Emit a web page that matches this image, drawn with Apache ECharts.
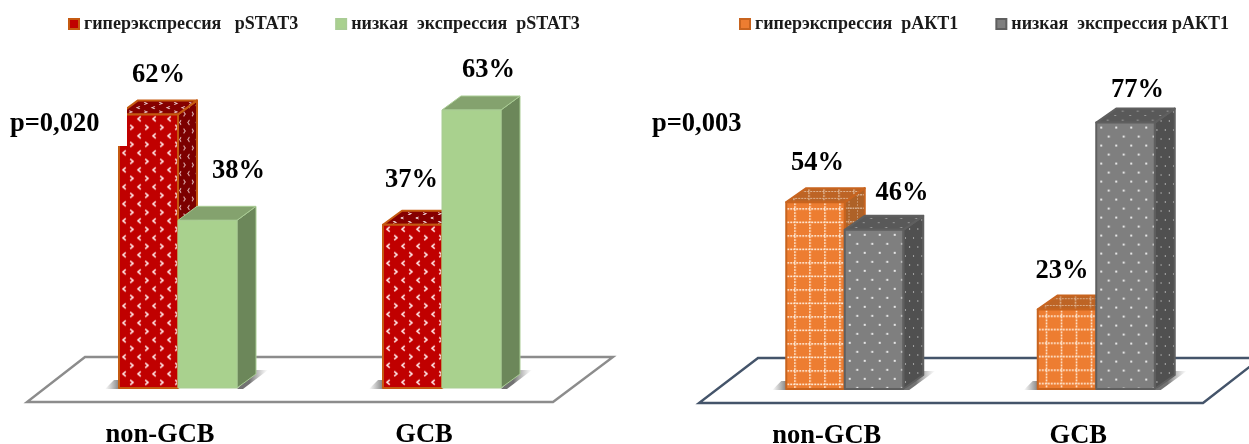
<!DOCTYPE html>
<html>
<head>
<meta charset="utf-8">
<style>html,body{margin:0;padding:0;background:#fff}#chart{width:1249px;height:444px}</style>
<script src="https://cdn.jsdelivr.net/npm/echarts@6/dist/echarts.min.js"></script>
</head>
<body>
<div id="chart"></div>
<script>
// Expression groups, in percent of patients per lymphoma subtype
const categories = ['non-GCB', 'GCB'];
const pstat3High = [62, 37];
const pstat3Low = [38, 63];
const pakt1High = [54, 23];
const pakt1Low = [46, 77];

const legendStat = ['гиперэкспрессия   pSTAT3', 'низкая  экспрессия  pSTAT3'];
const legendAkt = ['гиперэкспрессия  pАКТ1', 'низкая  экспрессия pАКТ1'];

const SERIF = '"Liberation Serif","Times New Roman",serif';
const LABEL_FONT = 'bold 26.5px ' + SERIF;

// Tile makers for the surface textures of the columns
function tile(w, h, bg, draw) {
  const c = document.createElement('canvas');
  c.width = w; c.height = h;
  const g = c.getContext('2d');
  g.fillStyle = bg; g.fillRect(0, 0, w, h);
  draw(g);
  return c;
}
function chevrons(bg, ink) {
  return tile(15, 17, bg, g => {
    g.strokeStyle = ink; g.lineWidth = 1.6;
    g.beginPath(); g.moveTo(5.8, 1.2); g.lineTo(3, 3.5); g.lineTo(5.8, 5.8); g.stroke();
    g.beginPath(); g.moveTo(10.2, 9.7); g.lineTo(13, 12); g.lineTo(10.2, 14.3); g.stroke();
  });
}
function plaid(bg, ink) {
  return tile(15, 27, bg, g => {
    g.fillStyle = ink;
    for (let y = 0; y < 27; y += 3) g.fillRect(7, y, 1.4, 2);
    for (let x = 0; x < 15; x += 3) {
      g.fillRect(x, 5, 2, 1.5);
      g.fillRect(x, 18.5, 2, 1.5);
    }
  });
}
function dots(bg, ink) {
  return tile(15, 18, bg, g => {
    g.fillStyle = ink;
    g.beginPath(); g.arc(4, 4, 1.1, 0, 7); g.fill();
    g.beginPath(); g.arc(11.5, 13, 1.1, 0, 7); g.fill();
  });
}

const looks = {
  red: {
    legend: '#c00000', edge: '#c55a11', edgeW: 2,
    front: chevrons('#c00000', '#ffe6e6'), top: chevrons('#860000', '#e8c8c8'), side: chevrons('#7c0000', '#d8a8a8')
  },
  green: {
    legend: '#a9d18e', edge: '#a9cc94', edgeW: 1,
    front: '#a9d18e', top: '#84a26e', side: '#6c875a'
  },
  orange: {
    legend: '#ed7d31', edge: '#c8641f', edgeW: 2,
    front: plaid('#ed7d31', '#ffeedd'), top: plaid('#bd6425', '#e0b898'), side: plaid('#ae6228', '#d8b090')
  },
  grey: {
    legend: '#7f7f7f', edge: '#5f5f5f', edgeW: 2,
    front: dots('#7f7f7f', '#ffffff'), top: dots('#595959', '#a8a8a8'), side: dots('#505050', '#b0b0b0')
  }
};

const fillOf = (paint, x, y, sx, sy) => typeof paint === 'string' ? paint
  : { image: paint, repeat: 'repeat', x: x, y: y, scaleX: sx, scaleY: sy };

// One cuboid column: front, top and side faces plus its cast shadow and value text
function columnSeries(name, values, look, side, grid, barW, depth, labelShift) {
  return {
    name: name, type: 'custom', xAxisIndex: grid, yAxisIndex: grid, z: 3, clip: false,
    itemStyle: { color: look.legend, borderColor: look.edge, borderWidth: 2 },
    data: values.map((v, i) => [i, v]),
    encode: { x: 0, y: 1 },
    renderItem(params, api) {
      const idx = api.value(0), val = api.value(1);
      const top = api.coord([idx, val]);
      const base = api.coord([idx, 0]);
      const xL = side < 0 ? top[0] - barW : top[0];
      const xR = xL + barW, yT = top[1], yB = base[1];
      const dx = depth[0], dy = depth[1];
      const kids = [];
      if (side < 0) {
        kids.push({ type: 'polygon', shape: { points: [[xL - 14, yB + 1], [xL + 2, yB + 1], [xL + 8, yB - 8], [xL - 5, yB - 8]] },
          style: { fill: new echarts.graphic.LinearGradient(0, 0, 1, 0, [{ offset: 0, color: 'rgba(120,120,120,0)' }, { offset: 0.6, color: 'rgba(110,110,110,.8)' }, { offset: 1, color: 'rgba(110,110,110,.8)' }]) } });
      } else {
        kids.push({ type: 'polygon', shape: { points: [[xR, yB + 1], [xR + 6, yB + 1], [xR + dx + 12, yB + dy - 4], [xR + dx, yB + dy - 4]] },
          style: { fill: new echarts.graphic.LinearGradient(0, 0, 1, 0, [{ offset: 0.4, color: 'rgba(90,90,90,.85)' }, { offset: 1, color: 'rgba(150,150,150,0)' }]) } });
      }
      const edge = { stroke: look.edge, lineWidth: look.edgeW, lineJoin: 'round' };
      kids.push({ type: 'polygon', shape: { points: [[xR, yT], [xR + dx, yT + dy], [xR + dx, yB + dy], [xR, yB]] },
        style: Object.assign({ fill: fillOf(look.side, xR, 0, 0.55, 1) }, edge) });
      kids.push({ type: 'polygon', shape: { points: [[xL, yT], [xL + dx, yT + dy], [xR + dx, yT + dy], [xR, yT]] },
        style: Object.assign({ fill: fillOf(look.top, xL, yT, 1, 0.5) }, edge) });
      kids.push({ type: 'rect', shape: { x: xL, y: yT, width: barW, height: yB - yT },
        style: Object.assign({ fill: fillOf(look.front, xL + 1, yT + 1, 1, 1) }, edge) });
      const s = labelShift[idx];
      kids.push({ type: 'text', z2: 20, style: { text: val + '%', x: (xL + xR) / 2 + s[0], y: yT + dy + s[1],
        font: LABEL_FONT, fill: '#000', align: 'center', verticalAlign: 'middle' } });
      return { type: 'group', children: kids };
    }
  };
}

// Parallelogram floor under a group of columns, hung off the plot rectangle
function floorSeries(grid, color, inset) {
  return {
    type: 'custom', xAxisIndex: grid, yAxisIndex: grid, z: 1, clip: false, silent: true,
    data: [[0, 0]], encode: { x: 0, y: 1 },
    renderItem(params) {
      const r = params.coordSys, L = r.x, R = r.x + r.width, B = r.y + r.height;
      return { type: 'polygon', shape: { points: [[L + inset[0], B + 14], [R + inset[1], B + 14], [R + 39, B - 31], [L + 39, B - 31]] },
        style: { fill: '#fff', stroke: color, lineWidth: 2.4 } };
    }
  };
}

const axisPair = (grid, max) => ({
  x: { type: 'category', gridIndex: grid, data: categories, axisLine: { show: false }, axisTick: { show: false }, splitLine: { show: false },
    axisLabel: { fontFamily: SERIF, fontWeight: 'bold', fontSize: 26.5, color: '#000', margin: 34, padding: [0, 36, 0, 0] } },
  y: { type: 'value', gridIndex: grid, min: 0, max: max, show: false }
});
const leftAxes = axisPair(0, 80), rightAxes = axisPair(1, 100);

const legendText = { fontFamily: SERIF, fontWeight: 'bold', fontSize: 18, color: '#1a1a1a' };

const option = {
  animation: false,
  backgroundColor: '#fff',
  grid: [
    { left: 46, top: 35, width: 528, height: 353, outerBoundsMode: 'none' },
    { left: 719, top: 43, width: 503, height: 346, outerBoundsMode: 'none' }
  ],
  xAxis: [leftAxes.x, rightAxes.x],
  yAxis: [leftAxes.y, rightAxes.y],
  legend: [
    { data: legendStat, left: 68, top: 15, padding: 0, icon: 'rect', itemWidth: 10, itemHeight: 10, itemGap: 37, textStyle: legendText },
    { data: legendAkt, left: 739, top: 15, padding: 0, icon: 'rect', itemWidth: 10, itemHeight: 10, itemGap: 37, textStyle: legendText }
  ],
  series: [
    floorSeries(0, '#8c8c8c', [-19, -21]),
    floorSeries(1, '#44546a', [-20, -19]),
    columnSeries(legendStat[0], pstat3High, looks.red, -1, 0, 59, [19, -14], [[10, -25.5], [-1, -30.5]]),
    columnSeries(legendStat[1], pstat3Low, looks.green, 1, 0, 59, [19, -14], [[31, -35.5], [17, -25.5]]),
    columnSeries(legendAkt[0], pakt1High, looks.orange, -1, 1, 58.5, [20, -14], [[2, -25.5], [-5, -24.5]]),
    columnSeries(legendAkt[1], pakt1Low, looks.grey, 1, 1, 58.5, [20, -14], [[28, -22.5], [12, -18]])
  ],
  graphic: [
    { type: 'rect', z: 50, shape: { x: 4, y: 96, width: 123, height: 50 }, style: { fill: '#fff' } },
    { type: 'text', z: 51, style: { text: 'p=0,020', x: 10, y: 124, font: LABEL_FONT, fill: '#000', verticalAlign: 'middle' } },
    { type: 'text', z: 51, style: { text: 'p=0,003', x: 652, y: 124, font: LABEL_FONT, fill: '#000', verticalAlign: 'middle' } }
  ]
};

echarts.init(document.getElementById('chart'), null, { renderer: 'canvas' }).setOption(option);
</script>
</body>
</html>
